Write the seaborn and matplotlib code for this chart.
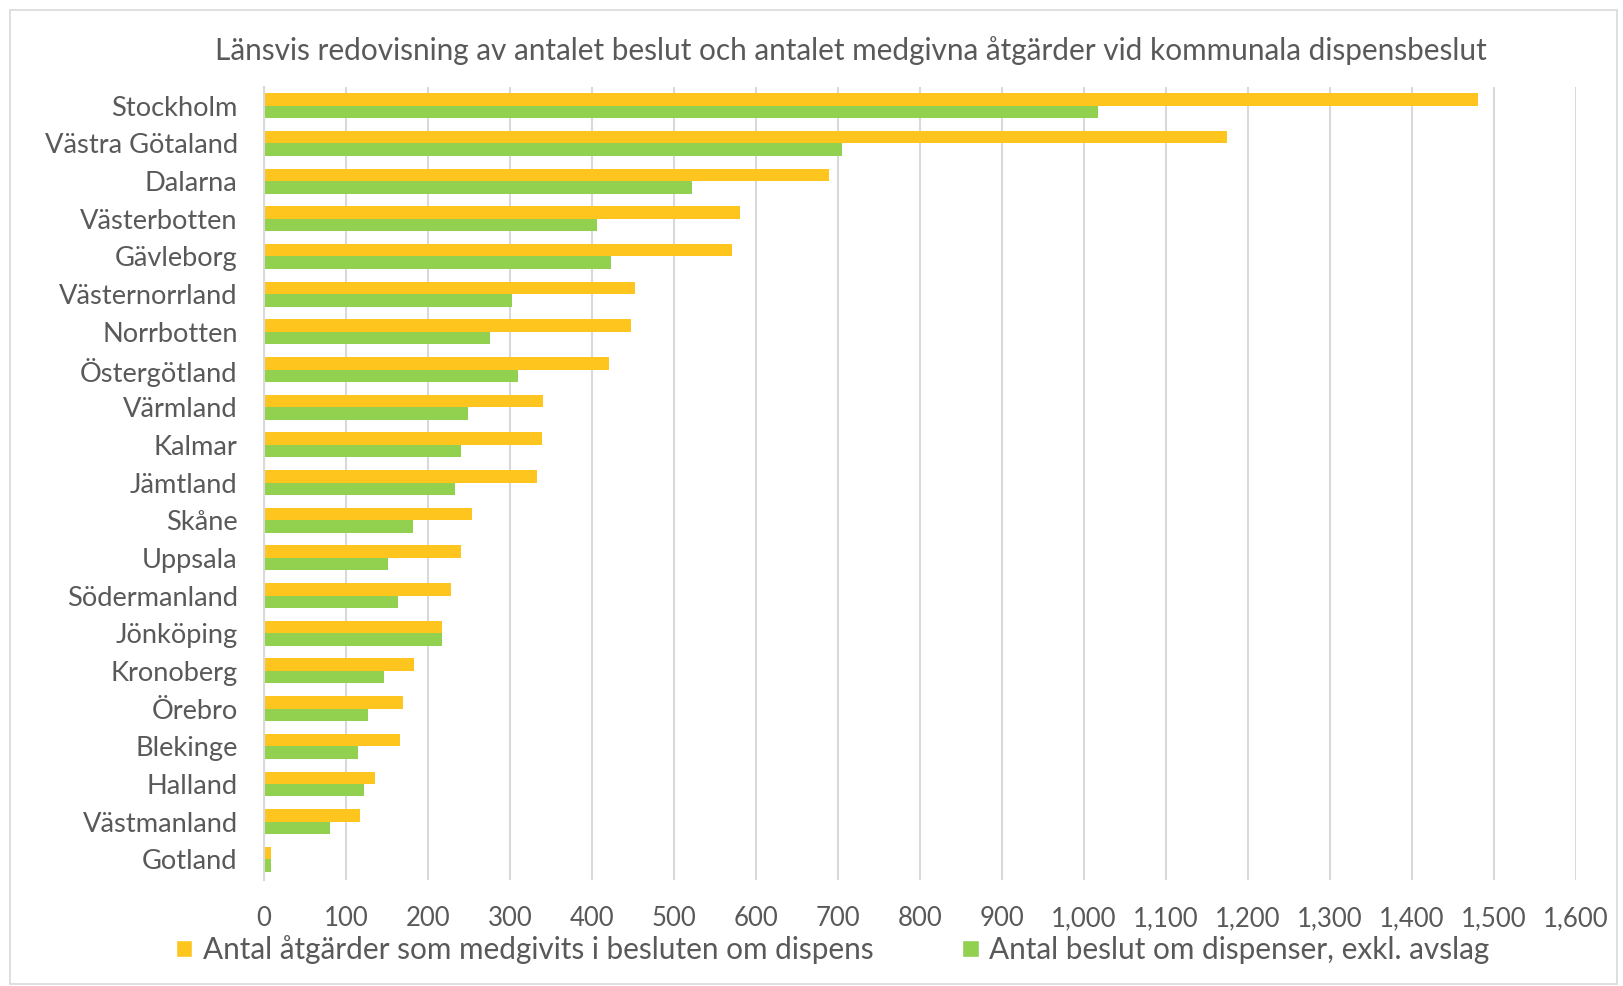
"""
Länsvis redovisning av dispensbeslut – horisontellt grupperat stapeldiagram.
"""

import matplotlib
matplotlib.use("Agg")
import pandas as pd
import seaborn as sns
from matplotlib import pyplot as plt
from matplotlib.patches import Patch, Rectangle
from matplotlib.ticker import FuncFormatter, MultipleLocator

LAN = [
    "Stockholm", "Västra Götaland", "Dalarna", "Västerbotten", "Gävleborg",
    "Västernorrland", "Norrbotten", "Östergötland", "Värmland", "Kalmar",
    "Jämtland", "Skåne", "Uppsala", "Södermanland", "Jönköping",
    "Kronoberg", "Örebro", "Blekinge", "Halland", "Västmanland", "Gotland",
]
ATGARDER = [1481, 1174, 689, 580, 571, 453, 448, 421, 340, 339,
            333, 253, 240, 228, 217, 183, 170, 166, 135, 117, 9]
BESLUT = [1017, 705, 522, 406, 423, 303, 276, 310, 249, 240,
          233, 182, 151, 163, 217, 146, 127, 115, 122, 80, 8]

SERIE_ATG = "Antal åtgärder som medgivits i besluten om dispens"
SERIE_BES = "Antal beslut om dispenser, exkl. avslag"

TITLE = "Länsvis redovisning av antalet beslut och antalet medgivna åtgärder vid kommunala dispensbeslut"

C_ORANGE = "#FFC51F"
C_GREEN = "#92D050"
C_TEXT = "#595959"
C_GRID = "#D9D9D9"

df = pd.DataFrame({
    "lan": LAN * 2,
    "varde": ATGARDER + BESLUT,
    "serie": [SERIE_ATG] * len(LAN) + [SERIE_BES] * len(LAN),
})

sns.set_theme(style="white")
plt.rcParams["font.family"] = ["Lato", "DejaVu Sans"]

fig = plt.figure(figsize=(16.23, 9.86), dpi=100)
ax = fig.add_axes([0.1627, 0.1075, 0.971 - 0.1627, 0.9118 - 0.1075])

sns.barplot(
    data=df, x="varde", y="lan", hue="serie", orient="h",
    palette=[C_ORANGE, C_GREEN], saturation=1, width=0.66, dodge=True,
    edgecolor="none", legend=False, ax=ax,
)

ax.set_xlim(0, 1600)
ax.set_ylim(len(LAN) - 0.45, -0.5)
ax.xaxis.set_major_locator(MultipleLocator(100))
ax.xaxis.set_major_formatter(FuncFormatter(lambda v, _: f"{int(v):,}"))
ax.grid(axis="x", color=C_GRID, linewidth=1.5)
ax.set_axisbelow(True)
for side in ["top", "right", "bottom"]:
    ax.spines[side].set_visible(False)
ax.spines["left"].set_color(C_GRID)
ax.spines["left"].set_linewidth(1.5)
ax.set_xlabel("")
ax.set_ylabel("")
ax.tick_params(axis="x", length=0, pad=19, labelsize=18.5, labelcolor=C_TEXT)
ax.tick_params(axis="y", length=0, pad=19, labelsize=19.6, labelcolor=C_TEXT)

fig.text(0.524, 0.949, TITLE, ha="center", va="center", fontsize=21.4, color=C_TEXT)

handles = [Patch(facecolor=C_ORANGE), Patch(facecolor=C_GREEN)]
fig.legend(
    handles, [SERIE_ATG, SERIE_BES], loc="center", bbox_to_anchor=(0.513, 0.037),
    ncol=2, frameon=False, fontsize=21.4, labelcolor=C_TEXT,
    handlelength=0.55, handleheight=0.55, handletextpad=0.35, columnspacing=3.0,
)

fig.patches.append(Rectangle((0.006, 0.002), 0.99, 0.988, transform=fig.transFigure,
                             fill=False, edgecolor=C_GRID, linewidth=1.2))

fig.savefig("out.png", dpi=100)
